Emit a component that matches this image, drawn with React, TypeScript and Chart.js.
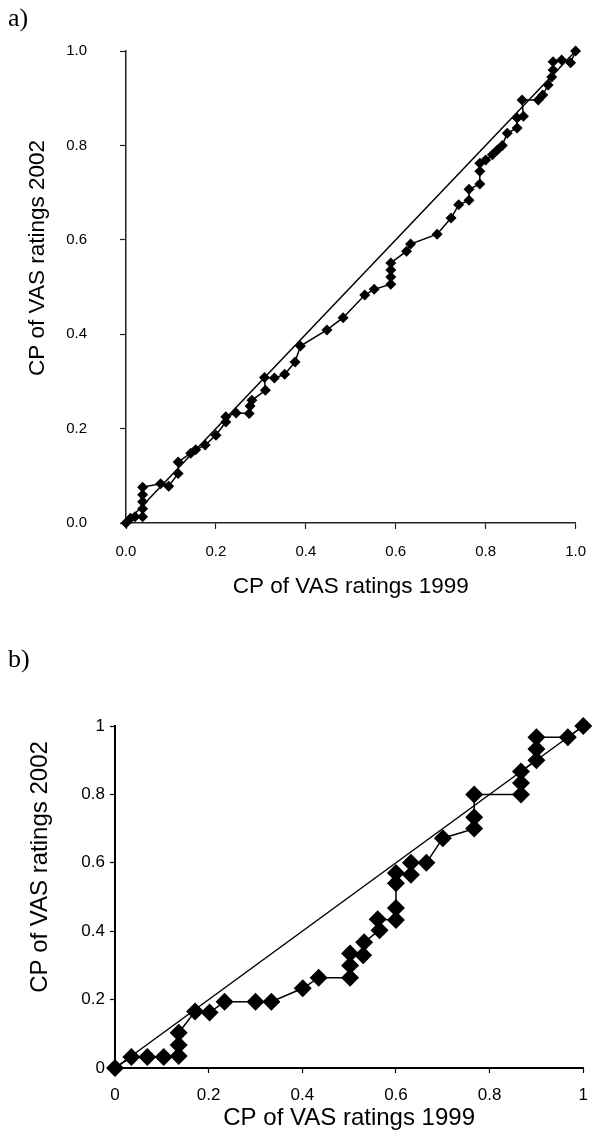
import React, { useEffect, useRef } from "react";
import { Chart, registerables } from "chart.js";

Chart.register(...registerables);

// ---------- data ----------
const panelALabel = "a)";
const panelBLabel = "b)";
const xAxisTitle = "CP of VAS ratings 1999";
const yAxisTitle = "CP of VAS ratings 2002";

const xA = [0, 0.01, 0.02, 0.037, 0.037, 0.037, 0.037, 0.037, 0.077, 0.095, 0.116, 0.116, 0.144, 0.155, 0.176, 0.2, 0.222, 0.222, 0.245, 0.274, 0.276, 0.28, 0.31, 0.308, 0.33, 0.353, 0.376, 0.388, 0.447, 0.483, 0.531, 0.552, 0.589, 0.589, 0.589, 0.589, 0.624, 0.633, 0.692, 0.723, 0.74, 0.763, 0.763, 0.787, 0.787, 0.787, 0.8, 0.815, 0.826, 0.837, 0.848, 0.87, 0.87, 0.884, 0.881, 0.917, 0.927, 0.939, 0.947, 0.95, 0.95, 0.969, 0.989, 1];
const yA = [0, 0.01, 0.013, 0.013, 0.03, 0.045, 0.06, 0.076, 0.083, 0.078, 0.105, 0.129, 0.148, 0.155, 0.165, 0.186, 0.214, 0.225, 0.233, 0.232, 0.248, 0.26, 0.281, 0.308, 0.307, 0.315, 0.341, 0.375, 0.409, 0.435, 0.483, 0.495, 0.506, 0.521, 0.536, 0.551, 0.576, 0.591, 0.612, 0.646, 0.674, 0.684, 0.707, 0.718, 0.745, 0.762, 0.769, 0.78, 0.79, 0.8, 0.826, 0.837, 0.858, 0.862, 0.896, 0.896, 0.907, 0.928, 0.945, 0.96, 0.977, 0.981, 0.975, 1];

const xB = [0, 0.035, 0.069, 0.104, 0.136, 0.136, 0.136, 0.171, 0.202, 0.234, 0.3, 0.334, 0.401, 0.435, 0.502, 0.502, 0.502, 0.53, 0.532, 0.565, 0.561, 0.6, 0.6, 0.6, 0.6, 0.632, 0.632, 0.665, 0.7, 0.767, 0.767, 0.767, 0.867, 0.867, 0.867, 0.9, 0.9, 0.9, 0.967, 1];
const yB = [0, 0.032, 0.032, 0.032, 0.035, 0.067, 0.103, 0.165, 0.162, 0.194, 0.194, 0.194, 0.233, 0.264, 0.264, 0.3, 0.335, 0.33, 0.368, 0.403, 0.435, 0.433, 0.468, 0.54, 0.57, 0.565, 0.6, 0.6, 0.672, 0.7, 0.733, 0.8, 0.8, 0.833, 0.867, 0.9, 0.933, 0.967, 0.967, 1];

const diagonalX = [0, 1];
const diagonalY = [0, 1];

const tickValues = [0, 0.2, 0.4, 0.6, 0.8, 1];
const tickLabelsA = ["0.0", "0.2", "0.4", "0.6", "0.8", "1.0"];
const tickLabelsB = ["0", "0.2", "0.4", "0.6", "0.8", "1"];

const FONT = "'Liberation Sans', Arial, sans-serif";

type PanelCfg = {
  top: number;
  height: number;
  xs: number[];
  ys: number[];
  tickLabels: string[];
  areaLeft: number;
  areaRight: number;
  areaTop: number; // canvas coords
  areaBottom: number; // canvas coords
  tickFont: number;
  titleFont: number;
  yTickPad: number;
  xTickPad: number;
  tickLen: number;
  xTitlePadBottom: number;
  yTitleX: number;
  yTitleY: number;
  pointRadius: number;
  axisWidth: number;
  axisColor: string;
};

function Panel({ cfg }: { cfg: PanelCfg }) {
  const ref = useRef<HTMLCanvasElement | null>(null);
  useEffect(() => {
    if (!ref.current) return;
    const pts = cfg.xs.map((x, i) => ({ x, y: cfg.ys[i] }));
    const diag = diagonalX.map((x, i) => ({ x, y: diagonalY[i] }));
    const yTitlePlugin = {
      id: "yTitle",
      afterDraw(chart: any) {
        const ctx = chart.ctx;
        ctx.save();
        ctx.translate(cfg.yTitleX, cfg.yTitleY);
        ctx.rotate(-Math.PI / 2);
        ctx.font = `${cfg.titleFont}px ${FONT}`;
        ctx.fillStyle = "#000";
        ctx.textAlign = "center";
        ctx.textBaseline = "middle";
        ctx.fillText(yAxisTitle, 0, 0);
        ctx.restore();
      },
    };
    const labelFor = (v: number) => {
      const idx = tickValues.findIndex((t) => Math.abs(t - v) < 1e-6);
      return idx >= 0 ? cfg.tickLabels[idx] : "";
    };
    const chart = new Chart(ref.current, {
      type: "scatter",
      data: {
        datasets: [
          {
            data: pts,
            showLine: true,
            borderColor: "#000",
            borderWidth: 1.5,
            backgroundColor: "#000",
            pointStyle: "rectRot",
            pointRadius: cfg.pointRadius,
            pointBorderWidth: 0,
            pointBackgroundColor: "#000",
            clip: false as any,
            order: 1,
          },
          {
            data: diag,
            showLine: true,
            borderColor: "#000",
            borderWidth: 1.5,
            pointRadius: 0,
            clip: false as any,
            order: 2,
          },
        ],
      },
      options: {
        animation: false,
        responsive: false,
        events: [],
        layout: {
          padding: {
            top: cfg.areaTop,
            left: 0,
            right: 600 - cfg.areaRight,
            bottom: 0,
          },
        },
        plugins: {
          legend: { display: false },
          tooltip: { enabled: false },
        },
        scales: {
          x: {
            type: "linear",
            min: 0,
            max: 1,
            afterFit: (s: any) => {
              s.height = cfg.height - cfg.areaBottom;
            },
            afterBuildTicks: (s: any) => {
              s.ticks = tickValues.map((v) => ({ value: v }));
            },
            ticks: {
              callback: (v: any) => labelFor(Number(v)),
              color: "#000",
              font: { family: FONT, size: cfg.tickFont },
              padding: cfg.xTickPad,
              maxRotation: 0,
              autoSkip: false,
            },
            grid: {
              drawOnChartArea: false,
              drawTicks: true,
              tickLength: cfg.tickLen,
              color: cfg.axisColor,
              tickColor: cfg.axisColor,
              tickWidth: 1.2,
            },
            border: { display: true, color: cfg.axisColor, width: cfg.axisWidth },
            title: {
              display: true,
              text: xAxisTitle,
              color: "#000",
              font: { family: FONT, size: cfg.titleFont },
              padding: { top: 0, bottom: cfg.xTitlePadBottom },
            },
          },
          y: {
            type: "linear",
            min: 0,
            max: 1,
            afterFit: (s: any) => {
              s.width = cfg.areaLeft;
            },
            afterBuildTicks: (s: any) => {
              s.ticks = tickValues.map((v) => ({ value: v }));
            },
            ticks: {
              callback: (v: any) => labelFor(Number(v)),
              color: "#000",
              font: { family: FONT, size: cfg.tickFont },
              padding: cfg.yTickPad,
              autoSkip: false,
            },
            grid: {
              drawOnChartArea: false,
              drawTicks: true,
              tickLength: cfg.tickLen,
              color: cfg.axisColor,
              tickColor: cfg.axisColor,
              tickWidth: 1.2,
            },
            border: { display: true, color: cfg.axisColor, width: cfg.axisWidth },
          },
        },
      },
      plugins: [yTitlePlugin],
    } as any);
    return () => chart.destroy();
  }, [cfg]);
  return (
    <canvas
      ref={ref}
      width={600}
      height={cfg.height}
      style={{ position: "absolute", left: 0, top: cfg.top, width: 600, height: cfg.height }}
    />
  );
}

const cfgA: PanelCfg = {
  top: 0,
  height: 620,
  xs: xA,
  ys: yA,
  tickLabels: tickLabelsA,
  areaLeft: 126,
  areaRight: 581,
  areaTop: 51,
  areaBottom: 523,
  tickFont: 15,
  titleFont: 22.5,
  yTickPad: 33,
  xTickPad: 14,
  tickLen: 6,
  xTitlePadBottom: 20,
  yTitleX: 38,
  yTitleY: 258,
  pointRadius: 5.5,
  axisWidth: 1.5,
  axisColor: "#222",
};

const cfgB: PanelCfg = {
  top: 640,
  height: 502,
  xs: xB,
  ys: yB,
  tickLabels: tickLabelsB,
  areaLeft: 115,
  areaRight: 593,
  areaTop: 86,
  areaBottom: 428,
  tickFont: 17,
  titleFont: 24,
  yTickPad: 5,
  xTickPad: 12,
  tickLen: 5,
  xTitlePadBottom: 9,
  yTitleX: 40,
  yTitleY: 227,
  pointRadius: 9,
  axisWidth: 2,
  axisColor: "#000",
};

export default function App() {
  const labelStyle: React.CSSProperties = {
    position: "absolute",
    left: 8,
    fontFamily: "'Liberation Serif', 'Times New Roman', serif",
    fontSize: 26,
    lineHeight: "30px",
    color: "#000",
  };
  return (
    <div style={{ position: "absolute", left: 0, top: 0, width: 600, height: 1142, background: "#fff" }}>
      <Panel cfg={cfgA} />
      <Panel cfg={cfgB} />
      <div style={{ ...labelStyle, top: 3 }}>{panelALabel}</div>
      <div style={{ ...labelStyle, top: 644 }}>{panelBLabel}</div>
    </div>
  );
}
